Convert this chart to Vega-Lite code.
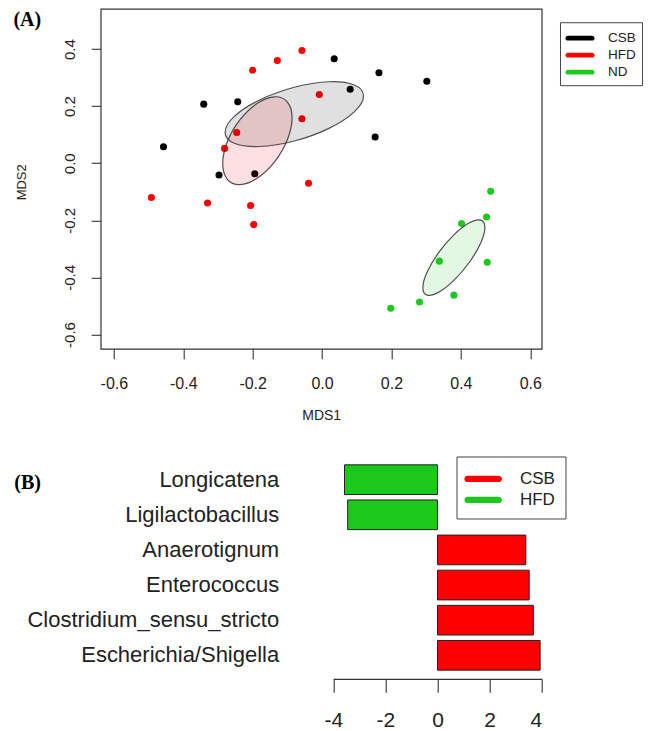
{
  "$schema": "https://vega.github.io/schema/vega-lite/v6.json",
  "padding": {"left": 12.7, "top": 7.8, "right": 0, "bottom": 0},
  "config": {"font": "Liberation Sans", "view": {"stroke": null}},
  "datasets": {
    "points": [
      {"group": "CSB", "x": 0.035, "y": 0.366},
      {"group": "CSB", "x": 0.164, "y": 0.317},
      {"group": "CSB", "x": 0.302, "y": 0.287},
      {"group": "CSB", "x": 0.081, "y": 0.259},
      {"group": "CSB", "x": -0.341, "y": 0.207},
      {"group": "CSB", "x": -0.243, "y": 0.215},
      {"group": "CSB", "x": -0.457, "y": 0.058},
      {"group": "CSB", "x": 0.153, "y": 0.092},
      {"group": "CSB", "x": -0.297, "y": -0.041},
      {"group": "CSB", "x": -0.194, "y": -0.037},
      {"group": "HFD", "x": -0.058, "y": 0.395},
      {"group": "HFD", "x": -0.129, "y": 0.36},
      {"group": "HFD", "x": -0.2, "y": 0.326},
      {"group": "HFD", "x": -0.008, "y": 0.241},
      {"group": "HFD", "x": -0.058, "y": 0.156},
      {"group": "HFD", "x": -0.246, "y": 0.108},
      {"group": "HFD", "x": -0.281, "y": 0.052},
      {"group": "HFD", "x": -0.039, "y": -0.07},
      {"group": "HFD", "x": -0.492, "y": -0.12},
      {"group": "HFD", "x": -0.33, "y": -0.139},
      {"group": "HFD", "x": -0.206, "y": -0.148},
      {"group": "HFD", "x": -0.197, "y": -0.215},
      {"group": "ND", "x": 0.486, "y": -0.098},
      {"group": "ND", "x": 0.474, "y": -0.188},
      {"group": "ND", "x": 0.402, "y": -0.211},
      {"group": "ND", "x": 0.338, "y": -0.343},
      {"group": "ND", "x": 0.476, "y": -0.347},
      {"group": "ND", "x": 0.38, "y": -0.462},
      {"group": "ND", "x": 0.281, "y": -0.486},
      {"group": "ND", "x": 0.198, "y": -0.508}
    ],
    "ellipses": [
      {"group": "CSB", "i": 0, "x": 0.1195, "y": 0.2355},
      {"group": "CSB", "i": 1, "x": 0.0928, "y": 0.1799},
      {"group": "CSB", "i": 2, "x": 0.0198, "y": 0.1222},
      {"group": "CSB", "i": 3, "x": -0.08, "y": 0.0778},
      {"group": "CSB", "i": 4, "x": -0.1798, "y": 0.0586},
      {"group": "CSB", "i": 5, "x": -0.2528, "y": 0.0699},
      {"group": "CSB", "i": 6, "x": -0.2795, "y": 0.1085},
      {"group": "CSB", "i": 7, "x": -0.2528, "y": 0.1641},
      {"group": "CSB", "i": 8, "x": -0.1798, "y": 0.2218},
      {"group": "CSB", "i": 9, "x": -0.08, "y": 0.2662},
      {"group": "CSB", "i": 10, "x": 0.0198, "y": 0.2854},
      {"group": "CSB", "i": 11, "x": 0.0928, "y": 0.2741},
      {"group": "HFD", "i": 0, "x": -0.0864, "y": 0.1595},
      {"group": "HFD", "i": 1, "x": -0.0998, "y": 0.0831},
      {"group": "HFD", "i": 2, "x": -0.1364, "y": 0.0058},
      {"group": "HFD", "i": 3, "x": -0.1864, "y": -0.052},
      {"group": "HFD", "i": 4, "x": -0.2364, "y": -0.0746},
      {"group": "HFD", "i": 5, "x": -0.273, "y": -0.0561},
      {"group": "HFD", "i": 6, "x": -0.2864, "y": -0.0013},
      {"group": "HFD", "i": 7, "x": -0.273, "y": 0.0751},
      {"group": "HFD", "i": 8, "x": -0.2364, "y": 0.1524},
      {"group": "HFD", "i": 9, "x": -0.1864, "y": 0.2102},
      {"group": "HFD", "i": 10, "x": -0.1364, "y": 0.2328},
      {"group": "HFD", "i": 11, "x": -0.0998, "y": 0.2143},
      {"group": "ND", "i": 0, "x": 0.4693, "y": -0.225},
      {"group": "ND", "i": 1, "x": 0.4573, "y": -0.279},
      {"group": "ND", "i": 2, "x": 0.4246, "y": -0.3468},
      {"group": "ND", "i": 3, "x": 0.3799, "y": -0.4103},
      {"group": "ND", "i": 4, "x": 0.3352, "y": -0.4524},
      {"group": "ND", "i": 5, "x": 0.3025, "y": -0.4618},
      {"group": "ND", "i": 6, "x": 0.2905, "y": -0.436},
      {"group": "ND", "i": 7, "x": 0.3025, "y": -0.382},
      {"group": "ND", "i": 8, "x": 0.3352, "y": -0.3142},
      {"group": "ND", "i": 9, "x": 0.3799, "y": -0.2507},
      {"group": "ND", "i": 10, "x": 0.4246, "y": -0.2086},
      {"group": "ND", "i": 11, "x": 0.4573, "y": -0.1992}
    ],
    "bars": [
      {"genus": "Longicatena", "group": "HFD", "value": -3.57},
      {"genus": "Ligilactobacillus", "group": "HFD", "value": -3.45},
      {"genus": "Anaerotignum", "group": "CSB", "value": 3.39},
      {"genus": "Enterococcus", "group": "CSB", "value": 3.52},
      {"genus": "Clostridium_sensu_stricto", "group": "CSB", "value": 3.68},
      {"genus": "Escherichia/Shigella", "group": "CSB", "value": 3.94}
    ]
  },
  "concat": [
    {
      "width": 441,
      "height": 340,
      "view": {"stroke": "#333", "strokeWidth": 1.2},
      "title": {"text": "(A)", "anchor": "start", "frame": "group", "orient": "top", "offset": 0, "dx": -87.3, "dy": 21, "baseline": "top", "font": "Liberation Serif", "fontSize": 20, "fontWeight": "bold", "color": "black"},
      "layer": [
        {
          "data": {"name": "points"},
          "mark": {"type": "circle", "size": 50, "opacity": 1},
          "encoding": {
            "x": {"field": "x", "type": "quantitative", "scale": {"domain": [-0.638, 0.633], "nice": false, "zero": false},
              "axis": {"values": [-0.6, -0.4, -0.2, 0, 0.2, 0.4, 0.6], "labelExpr": "replace(format(datum.value, '.1f'), '\u2212', '-')", "domain": false, "grid": false, "tickSize": 10, "tickColor": "#333", "tickWidth": 1.1, "labelFontSize": 16, "labelColor": "#222", "labelPadding": 16.5, "title": "MDS1", "titleFontSize": 14, "titleFontWeight": "normal", "titleColor": "#222", "titlePadding": 17.5}},
            "y": {"field": "y", "type": "quantitative", "scale": {"domain": [-0.65, 0.541], "nice": false, "zero": false},
              "axis": {"values": [-0.6, -0.4, -0.2, 0, 0.2, 0.4], "labelExpr": "replace(format(datum.value, '.1f'), '\u2212', '-')", "domain": false, "grid": false, "tickSize": 9.5, "tickColor": "#333", "tickWidth": 1.1, "labelAngle": -90, "labelAlign": "center", "labelBaseline": "bottom", "labelPadding": 14, "labelFontSize": 15, "labelColor": "#222", "title": "MDS2", "titleFontSize": 13, "titleFontWeight": "normal", "titleColor": "#222", "titleX": -72, "titleY": 173, "titleBaseline": "bottom"}},
            "color": {"field": "group", "type": "nominal", "scale": {"domain": ["CSB", "HFD", "ND"], "range": ["#000000", "#FF0000", "#1DC91D"]},
              "legend": {"title": null, "orient": "none", "legendX": 459.3, "legendY": 13.4, "symbolType": "M-1.25,-0.25L1.25,-0.25A0.25,0.25 0 0 1 1.25,0.25L-1.25,0.25A0.25,0.25 0 0 1 -1.25,-0.25Z", "symbolSize": 374, "symbolStrokeWidth": 0, "strokeColor": "#444", "padding": 6, "symbolOffset": 4, "labelOffset": 18, "labelFontSize": 13.5, "labelColor": "#222", "rowPadding": -2.8}}
          }
        },
        {
          "data": {"name": "ellipses"},
          "transform": [{"filter": "datum.group === 'CSB'"}],
          "mark": {"type": "line", "interpolate": "cardinal-closed", "fill": "#000000", "fillOpacity": 0.12, "stroke": "#333", "strokeWidth": 1.2, "strokeOpacity": 0.85},
          "encoding": {"x": {"field": "x", "type": "quantitative"}, "y": {"field": "y", "type": "quantitative"}, "order": {"field": "i"}}
        },
        {
          "data": {"name": "ellipses"},
          "transform": [{"filter": "datum.group === 'HFD'"}],
          "mark": {"type": "line", "interpolate": "cardinal-closed", "fill": "#FF0000", "fillOpacity": 0.12, "stroke": "#333", "strokeWidth": 1.2, "strokeOpacity": 0.85},
          "encoding": {"x": {"field": "x", "type": "quantitative"}, "y": {"field": "y", "type": "quantitative"}, "order": {"field": "i"}}
        },
        {
          "data": {"name": "ellipses"},
          "transform": [{"filter": "datum.group === 'ND'"}],
          "mark": {"type": "line", "interpolate": "cardinal-closed", "fill": "#1DC91D", "fillOpacity": 0.13, "stroke": "#333", "strokeWidth": 1.2, "strokeOpacity": 0.85},
          "encoding": {"x": {"field": "x", "type": "quantitative"}, "y": {"field": "y", "type": "quantitative"}, "order": {"field": "i"}}
        }
      ]
    },
    {
      "width": 441,
      "height": 210.8,
      "title": {"text": "(B)", "anchor": "start", "frame": "group", "orient": "top", "offset": 0, "dx": -86.4, "dy": 30.5, "baseline": "top", "font": "Liberation Serif", "fontSize": 20, "fontWeight": "bold", "color": "black"},
      "data": {"name": "bars"},
      "mark": {"type": "bar", "stroke": "#222", "strokeWidth": 1},
      "encoding": {
        "y": {"field": "genus", "type": "nominal", "sort": ["Longicatena", "Ligilactobacillus", "Anaerotignum", "Enterococcus", "Clostridium_sensu_stricto", "Escherichia/Shigella"], "scale": {"paddingInner": 0.155, "paddingOuter": 0.0775},
          "axis": {"orient": "left", "offset": -232.6, "domain": false, "ticks": false, "labelPadding": 54.6, "labelFontSize": 22, "labelColor": "#222", "labelLimit": 0, "title": null}},
        "x": {"field": "value", "type": "quantitative", "scale": {"domain": [-12.93, 4], "nice": false, "zero": false},
          "axis": {"values": [-4, -2, 0, 2, 4], "labelExpr": "replace(format(datum.value, 'd'), '\u2212', '-')", "domainDash": [0, 232.6, 208.4, 60], "domainColor": "#333", "domainWidth": 1.1, "tickColor": "#333", "tickWidth": 1.1, "tickSize": 13.4, "offset": 6, "labelFontSize": 21, "labelColor": "#222", "labelPadding": 17, "grid": false, "title": null}},
        "fill": {"field": "group", "type": "nominal", "scale": {"domain": ["CSB", "HFD"], "range": ["#FF0000", "#1CC81C"]},
          "legend": {"title": null, "orient": "none", "legendX": 355.8, "legendY": 447.7, "symbolType": "M-1.25,-0.25L1.25,-0.25A0.25,0.25 0 0 1 1.25,0.25L-1.25,0.25A0.25,0.25 0 0 1 -1.25,-0.25Z", "symbolSize": 625, "symbolStrokeWidth": 0, "strokeColor": "#444", "padding": 10, "symbolOffset": 4.2, "labelOffset": 24.2, "labelFontSize": 17, "labelColor": "#222", "rowPadding": -3.6,
            "encode": {"symbols": {"stroke": {"value": "transparent"}, "strokeWidth": {"value": 0}}}}}
      }
    }
  ],
  "columns": 1,
  "bounds": "flush",
  "spacing": 113.3
}
